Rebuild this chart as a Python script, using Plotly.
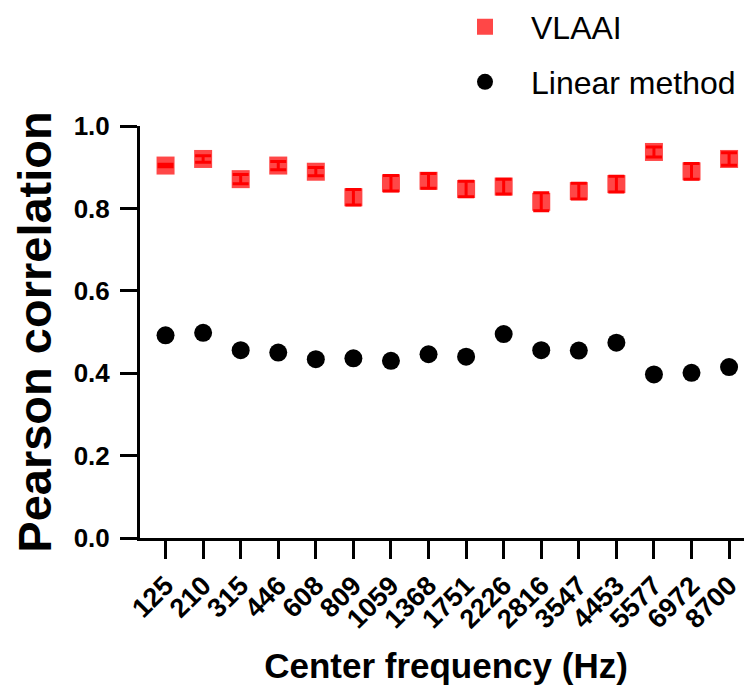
import plotly.graph_objects as go

freqs = ["125", "210", "315", "446", "608", "809", "1059", "1368", "1751", "2226",
         "2816", "3547", "4453", "5577", "6972", "8700"]
vlaai = [0.904, 0.920, 0.871, 0.904, 0.889, 0.827, 0.861, 0.867, 0.847, 0.853,
         0.816, 0.842, 0.859, 0.937, 0.890, 0.920]
vlaai_err = [0.003, 0.008, 0.011, 0.010, 0.010, 0.019, 0.019, 0.018, 0.019, 0.018,
             0.022, 0.019, 0.019, 0.012, 0.019, 0.015]
linear = [0.492, 0.498, 0.456, 0.450, 0.434, 0.436, 0.430, 0.446, 0.440, 0.495,
          0.456, 0.455, 0.474, 0.397, 0.401, 0.415]
y_ticks = [0.0, 0.2, 0.4, 0.6, 0.8, 1.0]

FAM = "Liberation Sans"
BOLD = dict(family=FAM, color="black", weight="bold")
W, H = 744, 683

fig = go.Figure()
fig.add_trace(go.Scatter(
    x=freqs, y=vlaai, mode="markers", name="VLAAI",
    marker=dict(symbol="square", size=18, color="rgba(255,0,0,0.72)", line=dict(width=0)),
    error_y=dict(type="data", array=vlaai_err, visible=True, color="#ff0000",
                 thickness=3, width=8),
    legend="legend", cliponaxis=False,
))
fig.add_trace(go.Scatter(
    x=freqs, y=linear, mode="markers", name="Linear method",
    marker=dict(symbol="circle", size=18, color="black", line=dict(width=0)),
    legend="legend2", cliponaxis=False,
))

legend_common = dict(
    font=dict(family=FAM, size=32, color="black"),
    bgcolor="rgba(0,0,0,0)", borderwidth=0, itemwidth=82,
    xref="container", yref="container",
    xanchor="left", yanchor="middle", itemsizing="trace",
)
fig.update_layout(
    width=W, height=H,
    margin=dict(l=132, r=0, t=118, b=153, autoexpand=False),
    plot_bgcolor="white", paper_bgcolor="white",
    showlegend=True,
    legend=dict(x=431 / W, y=1 - 19 / H, **legend_common),
    legend2=dict(x=431 / W, y=1 - 74 / H, **legend_common),
    xaxis=dict(
        type="category", range=[-0.68, 15.61], automargin=False,
        showline=True, linecolor="black", linewidth=3,
        ticks="outside", ticklen=18, tickwidth=3, tickcolor="black",
        tickangle=-45, tickfont=dict(size=27, **BOLD),
        showgrid=False, zeroline=False,
        title=dict(text="Center frequency (Hz)", font=dict(size=35, **BOLD), standoff=21),
    ),
    yaxis=dict(
        range=[0, 1], tickvals=y_ticks, ticktext=[f"{v:.1f}" for v in y_ticks],
        automargin=False,
        showline=True, linecolor="black", linewidth=3,
        ticks="outside", ticklen=17, tickwidth=3, tickcolor="black",
        tickfont=dict(size=26, **BOLD), ticklabelstandoff=5,
        showgrid=False, zeroline=False,
        title=dict(text="Pearson correlation", font=dict(size=47, **BOLD), standoff=34),
    ),
)

fig.write_html("out.html")
